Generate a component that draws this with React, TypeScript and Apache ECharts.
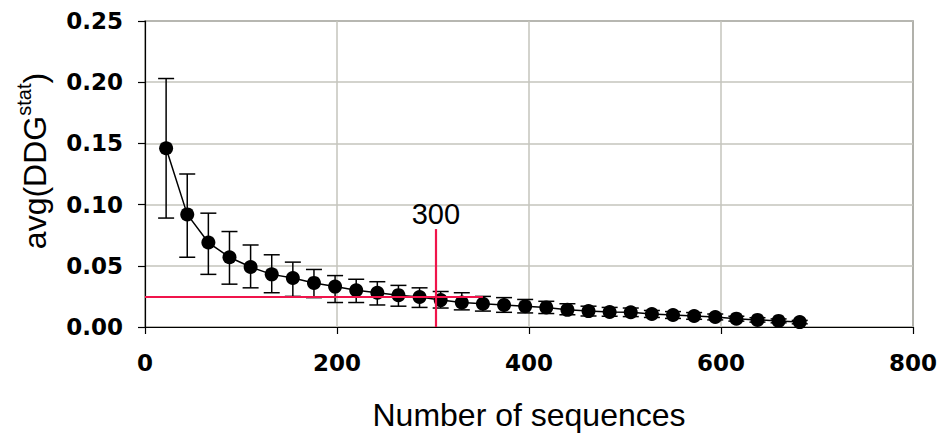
import React, { useEffect, useRef } from "react";
import * as echarts from "echarts";

const xValues = [22, 44, 66, 88, 110, 132, 154, 176, 198, 220, 242, 264, 286, 308, 330, 352, 374, 396, 418, 440, 462, 484, 506, 528, 550, 572, 594, 616, 638, 660, 682];
const meanValues = [0.146, 0.092, 0.069, 0.057, 0.049, 0.043, 0.040, 0.036, 0.033, 0.030, 0.028, 0.026, 0.0245, 0.022, 0.020, 0.019, 0.018, 0.017, 0.016, 0.014, 0.013, 0.0123, 0.012, 0.0106, 0.0098, 0.009, 0.0082, 0.0068, 0.0058, 0.005, 0.004];
const lowValues = [0.089, 0.057, 0.043, 0.035, 0.032, 0.028, 0.025, 0.024, 0.020, 0.020, 0.018, 0.017, 0.016, 0.0155, 0.014, 0.013, 0.012, 0.0115, 0.011, 0.010, 0.009, 0.0088, 0.0085, 0.0078, 0.007, 0.0063, 0.0058, 0.0048, 0.004, 0.0034, 0.0026];
const highValues = [0.203, 0.125, 0.093, 0.078, 0.067, 0.059, 0.053, 0.047, 0.042, 0.039, 0.037, 0.034, 0.032, 0.029, 0.028, 0.025, 0.024, 0.0225, 0.021, 0.019, 0.017, 0.016, 0.0155, 0.0135, 0.0126, 0.0118, 0.0106, 0.0088, 0.0076, 0.0066, 0.0054];

const xTicks = { min: 0, max: 800, interval: 200 };
const yTicks = { min: 0, max: 0.25, interval: 0.05 };

const refHorizontal = { y: 0.025, xFrom: 0, xTo: 352 };
const refVertical = { x: 303, yFrom: 0, yTo: 0.08, label: "300" };

const RED = "#f0144b";

export default function App() {
  const ref = useRef<HTMLDivElement>(null);
  useEffect(() => {
    document.body.style.margin = "0";
    const chart = echarts.init(ref.current!, null, { renderer: "svg" });
    const errData = xValues.map((x, i) => [x, lowValues[i], highValues[i]]);
    const lineData = xValues.map((x, i) => [x, meanValues[i]]);
    chart.setOption({
      animation: false,
      backgroundColor: "#fff",
      grid: {
        left: 145,
        right: 28,
        top: 21,
        bottom: 114,
        show: true,
        borderColor: "#222",
        borderWidth: 1.2,
      },
      xAxis: {
        type: "value",
        min: xTicks.min,
        max: xTicks.max,
        interval: xTicks.interval,
        name: "Number of sequences",
        nameLocation: "middle",
        nameGap: 72,
        nameTextStyle: { fontFamily: "Liberation Sans", fontSize: 32, color: "#000" },
        axisLine: { show: true, onZero: false, lineStyle: { color: "#000", width: 1.2 } },
        axisTick: { show: true, length: 7, lineStyle: { color: "#000", width: 1.2 } },
        axisLabel: {
          margin: 24,
          fontFamily: "DejaVu Sans",
          fontWeight: "bold",
          fontSize: 23,
          color: "#000",
        },
        splitLine: { show: true, lineStyle: { color: "#c4c4bc", width: 1.5 } },
      },
      yAxis: {
        type: "value",
        min: yTicks.min,
        max: yTicks.max,
        interval: yTicks.interval,
        name: "avg(DDG{sup|stat})",
        nameLocation: "middle",
        nameGap: 89,
        nameRotate: 90,
        nameTextStyle: {
          fontFamily: "Liberation Sans",
          fontSize: 32,
          color: "#000",
          padding: [0, 0, 0, 26],
          rich: {
            sup: { fontFamily: "Liberation Sans", fontSize: 20, color: "#000", verticalAlign: "top", padding: [0, 0, 22, 0] },
          },
        },
        axisLine: { show: true, onZero: false, lineStyle: { color: "#000", width: 1.2 } },
        axisTick: { show: true, length: 7, lineStyle: { color: "#000", width: 1.2 } },
        axisLabel: {
          margin: 22,
          fontFamily: "DejaVu Sans",
          fontWeight: "bold",
          fontSize: 23,
          color: "#000",
          formatter: (v: number) => v.toFixed(2),
        },
        splitLine: { show: true, lineStyle: { color: "#c4c4bc", width: 1.5 } },
      },
      series: [
        {
          type: "custom",
          z: 2,
          data: errData,
          renderItem: (params: any, api: any) => {
            const x = api.value(0);
            const lo = api.coord([x, api.value(1)]);
            const hi = api.coord([x, api.value(2)]);
            const cap = 8;
            const style = { stroke: "#000", lineWidth: 1.5 };
            return {
              type: "group",
              children: [
                { type: "line", shape: { x1: lo[0], y1: lo[1], x2: hi[0], y2: hi[1] }, style },
                { type: "line", shape: { x1: lo[0] - cap, y1: lo[1], x2: lo[0] + cap, y2: lo[1] }, style },
                { type: "line", shape: { x1: hi[0] - cap, y1: hi[1], x2: hi[0] + cap, y2: hi[1] }, style },
              ],
            };
          },
        },
        {
          type: "line",
          z: 3,
          data: lineData,
          symbol: "circle",
          symbolSize: 14,
          itemStyle: { color: "#000" },
          lineStyle: { color: "#000", width: 1.5 },
          markLine: {
            silent: true,
            z: 10,
            symbol: ["none", "none"],
            animation: false,
            lineStyle: { color: RED, width: 2.2, type: "solid" },
            label: { show: false },
            data: [
              [
                { coord: [refHorizontal.xFrom, refHorizontal.y], label: { show: false } },
                { coord: [refHorizontal.xTo, refHorizontal.y], label: { show: false } },
              ],
              [
                {
                  coord: [refVertical.x, refVertical.yFrom],
                  label: { show: true, position: "end", formatter: refVertical.label, distance: 1, fontFamily: "Liberation Sans", fontSize: 29, color: "#000" },
                },
                {
                  coord: [refVertical.x, refVertical.yTo],
                  label: { show: true, position: "end", formatter: refVertical.label, distance: 1, fontFamily: "Liberation Sans", fontSize: 29, color: "#000" },
                },
              ],
            ],
          },
        },
      ],
    });
    return () => chart.dispose();
  }, []);
  return <div ref={ref} style={{ width: 941, height: 441 }} />;
}
